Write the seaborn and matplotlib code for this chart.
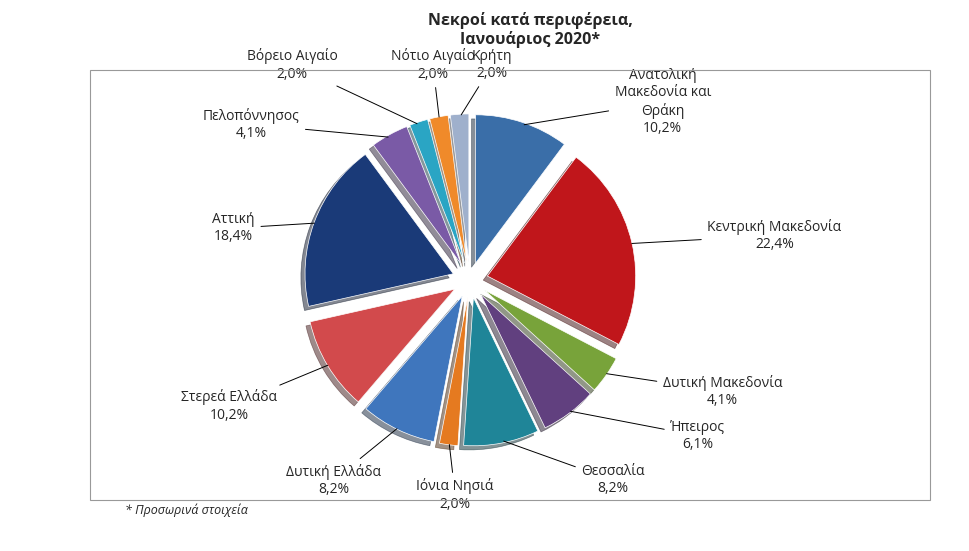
import numpy as np
import matplotlib.pyplot as plt
import seaborn as sns
from matplotlib.patches import Rectangle

sns.set_style("white")
plt.rcParams['font.family'] = ['Open Sans', 'DejaVu Sans']

regions = ["Ανατολική\nΜακεδονία και\nΘράκη", "Κεντρική Μακεδονία", "Δυτική Μακεδονία",
           "Ήπειρος", "Θεσσαλία", "Ιόνια Νησιά", "Δυτική Ελλάδα", "Στερεά Ελλάδα",
           "Αττική", "Πελοπόννησος", "Βόρειο Αιγαίο", "Νότιο Αιγαίο", "Κρήτη"]
shares = [10.2, 22.4, 4.1, 6.1, 8.2, 2.0, 8.2, 10.2, 18.4, 4.1, 2.0, 2.0, 2.0]
colors = ["#3a6ea8", "#c0161b", "#78a33a", "#61407f", "#1f8598", "#e57a20", "#3f76bd",
          "#d24a4c", "#1a3a78", "#7a5aa6", "#2aa5c4", "#f08a2a", "#9fb0cc"]

fig = plt.figure(figsize=(9.69, 5.51), dpi=100)
fig.patches.append(Rectangle((90/969, 1-500/551), 840/969, 430/551, transform=fig.transFigure,
                             fill=False, edgecolor="#999999", lw=0.8))
ax = fig.add_axes([(470-264)/969, (551-280-264)/551, 528/969, 528/551])
wedges, _ = ax.pie(shares, colors=colors, startangle=90, counterclock=False,
                   explode=[0.12]*len(shares), shadow=True,
                   wedgeprops=dict(edgecolor="white", linewidth=0.5))
ax.set_xlim(-1.78, 1.78)
ax.set_ylim(-1.78, 1.78)
ax.set_aspect("equal")
ax.axis("off")

label_pos = {0: (1.3, 1.2), 1: (1.6, 0.3), 2: (1.3, -0.75), 3: (1.35, -1.05),
             4: (0.75, -1.35), 5: (-0.1, -1.45), 6: (-0.6, -1.35), 7: (-1.3, -0.85),
             8: (-1.45, 0.35), 9: (-1.15, 1.05), 10: (-1.2, 1.45), 11: (-0.25, 1.45), 12: (0.15, 1.45)}
for i, w in enumerate(wedges):
    ang = np.deg2rad((w.theta1 + w.theta2) / 2)
    x0, y0 = 1.1*np.cos(ang), 1.1*np.sin(ang)
    lx, ly = label_pos[i]
    ha = "left" if lx > 0.3 and i != 0 else ("right" if lx < -0.3 and i not in (10,) else "center")
    ax.annotate(f"{regions[i]}\n{shares[i]:.1f}%".replace(".", ","), xy=(x0, y0), xytext=(lx, ly),
                ha=ha, va="center", fontsize=10, multialignment="center",
                arrowprops=dict(arrowstyle="-", color="black", lw=0.7))

fig.text(530/969, 1-30/551, "Νεκροί κατά περιφέρεια,\nΙανουάριος 2020*", ha="center", va="center",
         fontsize=11.5, fontweight="bold")
fig.text(125/969, 1-510/551, "* Προσωρινά στοιχεία", style="italic", fontsize=9, va="center")
fig.savefig("out.png", dpi=100)
